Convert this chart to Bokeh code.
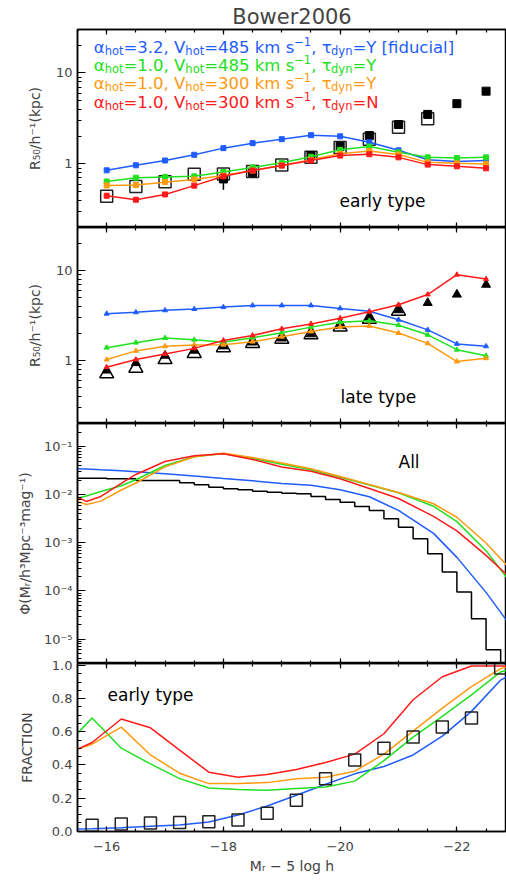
import numpy as np
from bokeh.plotting import figure
from bokeh.layouts import column
from bokeh.models import Range1d, LinearAxis, FixedTicker, CustomJSTickFormatter, Label
from bokeh.embed import file_html
from bokeh.resources import INLINE

# ---------------- data ----------------
mag = [-16.0, -16.5, -17.0, -17.5, -18.0, -18.5, -19.0, -19.5, -20.0, -20.5, -21.0, -21.5, -22.0, -22.5]

# early-type sizes (kpc/h)
early_blue = [0.85, 0.965, 1.09, 1.26, 1.49, 1.69, 1.87, 2.07, 2.01, 1.73, 1.41, 1.11, 1.06, 1.09]
early_green = [0.64, 0.705, 0.72, 0.73, 0.815, 0.915, 1.03, 1.20, 1.43, 1.55, 1.34, 1.18, 1.16, 1.18]
early_orange = [0.58, 0.585, 0.63, 0.675, 0.745, 0.845, 0.96, 1.11, 1.29, 1.39, 1.27, 1.04, 1.015, 1.00]
early_red = [0.447, 0.404, 0.462, 0.577, 0.73, 0.844, 0.958, 1.088, 1.235, 1.276, 1.18, 0.982, 0.941, 0.894]
early_open_mag = [-16.0, -16.5, -17.0, -17.5, -18.0, -18.5, -19.0, -19.5, -20.0, -20.5, -21.0, -21.5]
early_open = [0.44, 0.566, 0.638, 0.768, 0.776, 0.823, 0.975, 1.18, 1.51, 1.87, 2.53, 3.13]
early_fill_mag = [-18.0, -18.5, -19.5, -20.0, -20.5, -21.0, -21.5, -22.0, -22.5]
early_fill = [0.683, 0.80, 1.235, 1.56, 2.05, 2.71, 3.5, 4.59, 6.3]
err_mag = [-18.0]
err_lo = [0.52]
err_hi = [0.75]

# late-type sizes (kpc/h)
late_blue = [3.31, 3.43, 3.61, 3.73, 3.92, 4.09, 4.09, 4.09, 3.79, 3.52, 2.84, 2.19, 1.53, 1.44]
late_green = [1.39, 1.58, 1.78, 1.70, 1.60, 1.79, 2.03, 2.35, 2.66, 2.77, 2.47, 1.93, 1.32, 1.13]
late_orange = [1.025, 1.28, 1.44, 1.49, 1.50, 1.62, 1.84, 2.10, 2.36, 2.42, 2.02, 1.55, 0.975, 1.06]
late_red = [0.844, 1.025, 1.185, 1.365, 1.67, 1.90, 2.25, 2.55, 2.95, 3.48, 4.16, 5.41, 8.97, 8.02]
late_open_mag = [-16.0, -16.5, -17.0, -17.5, -18.0, -18.5, -19.0, -19.5, -20.0, -20.5, -21.0]
late_open = [0.714, 0.823, 1.025, 1.20, 1.39, 1.55, 1.73, 1.93, 2.36, 2.87, 3.54]
late_fill = [0.776, 0.94, 1.135, 1.29, 1.44, 1.59, 1.76, 1.96, 2.42, 2.99, 3.63, 4.37, 5.41, 6.96]

# luminosity functions
lf_mag = [-15.5, -15.65, -15.9, -16.25, -16.5, -17.0, -17.5, -18.0, -18.5, -19.0, -19.5,
          -20.0, -20.5, -21.0, -21.6, -22.0, -22.5, -22.85]
lf_blue = [0.0349, 0.0344, 0.0332, 0.0317, 0.0304, 0.0275, 0.0247, 0.0219, 0.0196, 0.01725, 0.0159,
           0.01277, 0.00913, 0.00474, 0.00158, 0.0005, 9.35e-5, 2.45e-5]
lf_green = [0.00853, 0.00948, 0.01177, 0.01546, 0.0206, 0.0408, 0.062, 0.0726, 0.0574, 0.0433, 0.0332,
            0.0233, 0.016, 0.01107, 0.0058, 0.00277, 0.00069, 0.000192]
lf_orange = [0.0073, 0.0063, 0.0074, 0.0126, 0.01766, 0.0382, 0.062, 0.0736, 0.0596, 0.046, 0.0349,
             0.02415, 0.01644, 0.01122, 0.00653, 0.00342, 0.000995, 0.000349]
lf_red = [0.00895, 0.0073, 0.00927, 0.01726, 0.02655, 0.0494, 0.065, 0.0715, 0.0545, 0.038, 0.0311,
          0.0216, 0.0136, 0.0084, 0.00356, 0.00178, 0.00055, 0.000221]
hist_edges = [-15.5, -15.75, -16.0, -16.25, -16.5, -16.75, -17.0, -17.25, -17.5, -17.75, -18.0,
              -18.25, -18.5, -18.75, -19.0, -19.25, -19.5, -19.75, -20.0, -20.25, -20.5, -20.75,
              -21.0, -21.25, -21.5, -21.75, -22.0, -22.25, -22.5, -22.75]
hist_vals = [0.0222, 0.0222, 0.0216, 0.0216, 0.0199, 0.0199, 0.0199, 0.0179, 0.0162, 0.01445,
             0.0134, 0.01276, 0.01194, 0.01137, 0.01084, 0.01054, 0.00926, 0.00802, 0.00705,
             0.00574, 0.00474, 0.00318, 0.00213, 0.00122, 0.000596, 0.000247, 9.49e-5, 2.65e-5, 6.0e-6]

# early-type fraction
frac_mag = [-15.75, -16.25, -16.75, -17.25, -17.75, -18.25, -18.75, -19.25, -19.75, -20.25,
            -20.75, -21.25, -21.75, -22.25, -22.75]
frac_obs = [0.035, 0.043, 0.049, 0.052, 0.057, 0.067, 0.108, 0.186, 0.317, 0.43, 0.501, 0.568,
            0.628, 0.683, 0.985]
fline_mag = [-15.5, -15.75, -16.25, -16.75, -17.25, -17.75, -18.25, -18.75, -19.25, -19.75,
             -20.25, -20.75, -21.25, -21.75, -22.25, -22.75, -22.85]
frac_blue = [0.013, 0.015, 0.02, 0.029, 0.037, 0.055, 0.098, 0.152, 0.217, 0.283, 0.346, 0.39,
             0.46, 0.574, 0.723, 0.912, 0.932]
frac_green = [0.59, 0.683, 0.501, 0.406, 0.317, 0.261, 0.251, 0.247, 0.257, 0.267, 0.302, 0.426,
              0.568, 0.693, 0.823, 0.961, 0.971]
frac_orange = [0.495, 0.525, 0.628, 0.46, 0.35, 0.287, 0.287, 0.293, 0.317, 0.326, 0.362, 0.465,
               0.604, 0.743, 0.872, 0.981, 0.99]
frac_red = [0.495, 0.535, 0.677, 0.624, 0.489, 0.356, 0.326, 0.342, 0.372, 0.415, 0.465, 0.588,
            0.793, 0.932, 0.997, 0.997, 0.997]

# ticks and labels
x_ticks = [-16, -18, -20, -22]
x_tick_labels = ["\u221216", "\u221218", "\u221220", "\u221222"]
r_ticks = [1, 10]
r_tick_labels = ["1", "10"]
lf_ticks = [1e-5, 1e-4, 1e-3, 1e-2, 1e-1]
lf_tick_labels = ["10\u207b\u2075", "10\u207b\u2074", "10\u207b\u00b3", "10\u207b\u00b2", "10\u207b\u00b9"]
f_ticks = [0.0, 0.2, 0.4, 0.6, 0.8, 1.0]
f_tick_labels = ["0.0", "0.2", "0.4", "0.6", "0.8", "1.0"]

models = [
    dict(alpha="3.2", vhot="485", tdyn="Y", extra=" [fiducial]", color="#1f5cff"),
    dict(alpha="1.0", vhot="485", tdyn="Y", extra="", color="#20e020"),
    dict(alpha="1.0", vhot="300", tdyn="Y", extra="", color="#ff9a10"),
    dict(alpha="1.0", vhot="300", tdyn="N", extra="", color="#ff1a1a"),
]
BLUE, GREEN, ORANGE, RED = [m["color"] for m in models]

# ---------------- styling helpers ----------------
FONT = "DejaVu Sans"
W = 506
LEFT = 77
XR = (-15.5, -22.85)
X_MINOR = list(np.arange(-15.5, -23.01, -0.5))

FMT = """
for (let i = 0; i < vals.length; i++) {
  if (Math.abs(tick - vals[i]) <= 1e-12 + 1e-6 * Math.abs(vals[i])) return labs[i];
}
return "";
"""


def base_fig(height, y_range, log, top=0, bottom=0):
    p = figure(width=W, height=height, x_range=Range1d(*XR), y_range=y_range,
               y_axis_type="log" if log else "linear", x_axis_location=None,
               output_backend="svg", toolbar_location=None, tools="",
               min_border_left=LEFT, min_border_right=0, min_border_top=top,
               min_border_bottom=bottom)
    p.grid.visible = False
    p.outline_line_color = "black"
    p.outline_line_width = 1.5
    p.background_fill_color = "white"
    p.border_fill_color = "white"
    return p


def style_y(p, majors, minors, labels, axis_label, standoff):
    ax = p.yaxis[0]
    ax.ticker = FixedTicker(ticks=majors, minor_ticks=minors)
    ax.formatter = CustomJSTickFormatter(args=dict(vals=majors, labs=labels), code=FMT)
    ax.major_tick_in = 8
    ax.major_tick_out = 0
    ax.minor_tick_in = 4
    ax.minor_tick_out = 0
    ax.axis_line_width = 1.5
    ax.major_tick_line_width = 1.2
    ax.minor_tick_line_width = 1.2
    ax.major_label_text_font = FONT
    ax.major_label_text_font_size = "13px"
    ax.major_label_standoff = 5
    ax.axis_label = axis_label
    ax.axis_label_text_font = FONT
    ax.axis_label_text_font_size = "14px"
    ax.axis_label_text_font_style = "normal"
    ax.axis_label_standoff = standoff


def add_x(p, place, labels=False):
    ax = LinearAxis(ticker=FixedTicker(ticks=x_ticks, minor_ticks=X_MINOR))
    ax.major_tick_in = 5
    ax.major_tick_out = 0
    ax.minor_tick_in = 3
    ax.minor_tick_out = 0
    ax.axis_line_width = 1.5
    ax.major_tick_line_width = 1.2
    ax.minor_tick_line_width = 1.2
    if labels:
        ax.formatter = CustomJSTickFormatter(args=dict(vals=x_ticks, labs=x_tick_labels), code=FMT)
        ax.major_label_text_font = FONT
        ax.major_label_text_font_size = "13px"
        ax.major_label_standoff = 10
        ax.axis_label = "M\u1d63 \u2212 5 log h"
        ax.axis_label_text_font = FONT
        ax.axis_label_text_font_size = "14px"
        ax.axis_label_text_font_style = "normal"
        ax.axis_label_standoff = 4
    else:
        ax.formatter = CustomJSTickFormatter(code="return '';")
        ax.major_label_text_font_size = "0px"
        ax.major_label_standoff = 0
    p.add_layout(ax, place)


def label(p, x, y, text, size, color="black", align="left"):
    p.add_layout(Label(x=x, y=y, x_units="screen", y_units="screen", text=text,
                       text_font=FONT, text_font_size=f"{size}px", text_color=color,
                       text_align=align, text_baseline="alphabetic"))


# approximate DejaVu Sans advance widths (em)
CW = {' ': 0.318, ',': 0.318, '.': 0.318, '=': 0.838, '[': 0.390, ']': 0.390, '\u2212': 0.838,
      'V': 0.684, 'Y': 0.611, 'N': 0.748, 'a': 0.613, 'c': 0.550, 'd': 0.635, 'f': 0.352,
      'h': 0.634, 'i': 0.278, 'k': 0.579, 'l': 0.278, 'm': 0.974, 'n': 0.634, 'o': 0.612,
      's': 0.521, 't': 0.392, 'u': 0.634, 'y': 0.592, '\u03b1': 0.659, '\u03c4': 0.568}
for d in "0123456789":
    CW[d] = 0.636


def tw(s, size):
    return sum(CW.get(c, 0.6) for c in s) * size


def rich(p, x0, y0, segs, color, main=16.5, small=11.5):
    x = x0
    for txt, kind in segs:
        if kind == "m":
            size, dy = main, 0
        elif kind == "b":
            size, dy = small, -3.5
        else:
            size, dy = small, 6
        label(p, x, y0 + dy, txt, size, color)
        x += tw(txt, size)


# ---------------- panel 1: early type sizes ----------------
p1 = base_fig(227, Range1d(0.2, 30), True, top=29)
p1.title.text = "Bower2006"
p1.title.align = "center"
p1.title.text_font = FONT
p1.title.text_font_size = "21px"
p1.title.text_font_style = "normal"
p1.title.standoff = 2
p1.title.offset = 0
style_y(p1, r_ticks, [0.2, 0.3, 0.4, 0.5, 0.6, 0.7, 0.8, 0.9, 2, 3, 4, 5, 6, 7, 8, 9, 20, 30],
        r_tick_labels, "R\u2085\u2080/h\u207b\u00b9(kpc)", 10)
add_x(p1, "above")
add_x(p1, "below")
p1.scatter(early_open_mag, early_open, marker="square", size=12, fill_color=None,
           line_color="#222222", line_width=1.5)
p1.scatter(early_fill_mag, early_fill, marker="square", size=8, color="black")
p1.segment(x0=err_mag, y0=err_lo, x1=err_mag, y1=err_hi, color="black", line_width=1.5)
for ys, c in [(early_blue, BLUE), (early_green, GREEN), (early_orange, ORANGE), (early_red, RED)]:
    p1.line(mag, ys, color=c, line_width=1.5)
    p1.scatter(mag, ys, marker="square", size=5, color=c)

for i, m in enumerate(models):
    segs = [("\u03b1", "m"), ("hot", "b"), ("=" + m["alpha"] + ", V", "m"), ("hot", "b"),
            ("=" + m["vhot"] + " km s", "m"), ("\u22121", "p"), (", \u03c4", "m"), ("dyn", "b"),
            ("=" + m["tdyn"] + m["extra"], "m")]
    rich(p1, 16.3, 180.3 - 18.3 * i, segs, m["color"])
label(p1, 262, 27, "early type", 17)

# ---------------- panel 2: late type sizes ----------------
p2 = base_fig(196, Range1d(0.2, 30), True)
style_y(p2, r_ticks, [0.2, 0.3, 0.4, 0.5, 0.6, 0.7, 0.8, 0.9, 2, 3, 4, 5, 6, 7, 8, 9, 20, 30],
        r_tick_labels, "R\u2085\u2080/h\u207b\u00b9(kpc)", 10)
add_x(p2, "above")
add_x(p2, "below")
p2.scatter(late_open_mag, late_open, marker="triangle", size=14, fill_color=None,
           line_color="black", line_width=1.5)
p2.scatter(mag, late_fill, marker="triangle", size=9, color="black")
for ys, c in [(late_blue, BLUE), (late_green, GREEN), (late_orange, ORANGE), (late_red, RED)]:
    p2.line(mag, ys, color=c, line_width=1.5)
    p2.scatter(mag, ys, marker="triangle", size=5, color=c)
label(p2, 263, 26.3, "late type", 17)

# ---------------- panel 3: luminosity function ----------------
LF_LO, LF_HI = 3.1e-6, 0.305
p3 = base_fig(240, Range1d(LF_LO, LF_HI), True)
lf_minor = [k * 10.0 ** e for e in range(-6, 0) for k in range(2, 10) if LF_LO <= k * 10.0 ** e <= LF_HI]
style_y(p3, lf_ticks, lf_minor, lf_tick_labels,
        "\u03a6(M\u1d63/h\u00b3Mpc\u207b\u00b3mag\u207b\u00b9)", 8)
add_x(p3, "above")
add_x(p3, "below")
hx, hy = [], []
for i, v in enumerate(hist_vals):
    hx += [hist_edges[i], hist_edges[i + 1] if i + 1 < len(hist_edges) else hist_edges[i] - 0.25]
    hy += [v, v]
hx.append(hx[-1])
hy.append(LF_LO)
p3.line(hx, hy, color="black", line_width=1.5)
for ys, c in [(lf_blue, BLUE), (lf_green, GREEN), (lf_orange, ORANGE), (lf_red, RED)]:
    p3.line(lf_mag, ys, color=c, line_width=1.5)
label(p3, 321, 201.3, "All", 17)

# ---------------- panel 4: early-type fraction ----------------
# canvas starts 10 px above its frame and overlaps panel 3 (transparent border),
# so that the "1.0" tick label at the very top is not cut off
OVER = 10
p4 = base_fig(217 + OVER, Range1d(-0.002, 1.012), False, top=OVER, bottom=49)
p4.margin = (-OVER, 0, 0, 0)
p4.border_fill_alpha = 0
p4.border_fill_color = None
style_y(p4, f_ticks, [round(0.05 * k, 2) for k in range(21)], f_tick_labels, "FRACTION", 14)
add_x(p4, "above")
add_x(p4, "below", labels=True)
for ys, c in [(frac_blue, BLUE), (frac_green, GREEN), (frac_orange, ORANGE), (frac_red, RED)]:
    p4.line(fline_mag, ys, color=c, line_width=1.5)
p4.scatter(frac_mag, frac_obs, marker="square", size=12, fill_color=None,
           line_color="#222222", line_width=1.5)
label(p4, 30, 136.5, "early type", 17)

layout = column(p1, p2, p3, p4, spacing=0)
open("out.html", "w").write(file_html(layout, INLINE))
